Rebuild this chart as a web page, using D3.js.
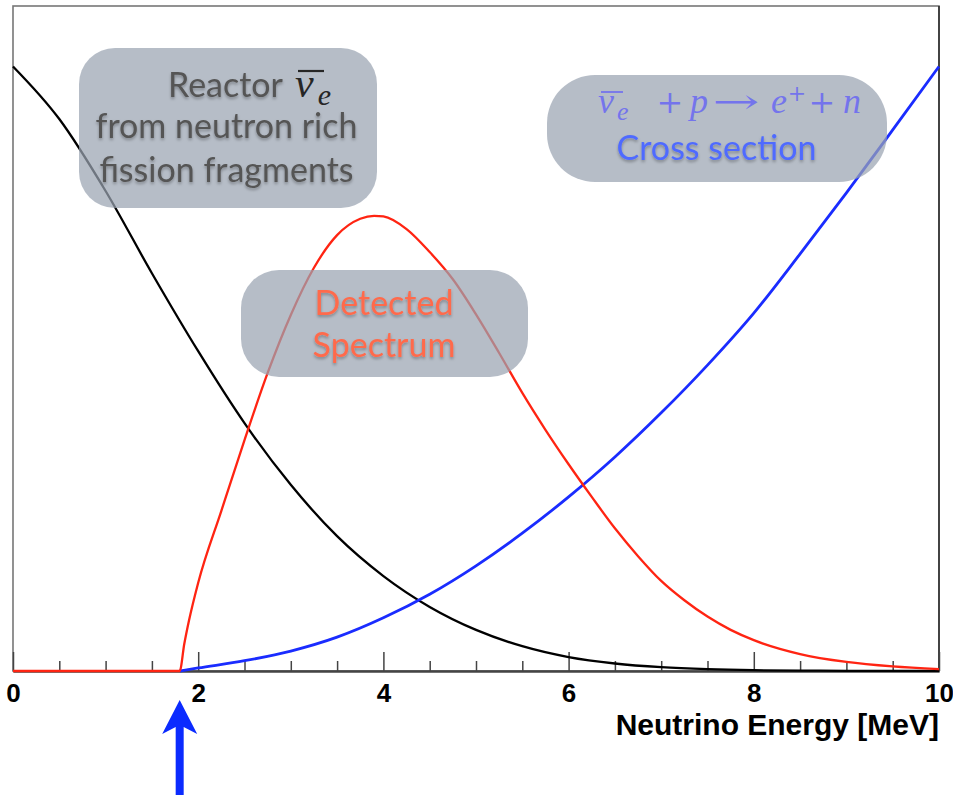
<!DOCTYPE html>
<html>
<head>
<meta charset="utf-8">
<script src="https://cdn.jsdelivr.net/npm/d3@7"></script>
<style>
  html, body { margin: 0; padding: 0; background: #fff; }
  svg { display: block; }
</style>
</head>
<body>
<svg id="chart" width="953" height="795"></svg>
<script>
// Reactor antineutrino flux (arbitrary units, value at 0 MeV = 1)
const fluxEnergy = [0, 0.5, 1.0, 1.5, 2.0, 2.5, 3.0, 3.5, 4.0, 4.5, 5.0, 5.5, 6.0, 6.5, 7.0, 7.5, 8.0, 8.5, 9.0, 9.5, 10];
const fluxValue  = [1.0, 0.913, 0.794, 0.658, 0.529, 0.410, 0.308, 0.223, 0.157, 0.106, 0.068, 0.041, 0.023, 0.0124, 0.0063, 0.003, 0.0013, 0.0007, 0.0003, 0.0002, 0.0001];

// Inverse beta decay cross section (arbitrary units, value at 10 MeV = 1)
const xsecEnergy = [1.8, 2.0, 2.5, 3.0, 3.5, 4.0, 4.5, 5.0, 5.5, 6.0, 6.5, 7.0, 7.5, 8.0, 8.5, 9.0, 9.5, 10];
const xsecValue  = [0, 0.005, 0.017, 0.033, 0.056, 0.088, 0.127, 0.174, 0.228, 0.288, 0.354, 0.427, 0.506, 0.592, 0.690, 0.791, 0.895, 1.0];

// Detected spectrum = flux x cross section (arbitrary units)
const specEnergy = [0, 1.8, 1.85, 1.9, 2.0, 2.25, 2.5, 2.75, 3.0, 3.25, 3.5, 3.75, 3.9, 4.0, 4.25, 4.5, 4.75, 5.0, 5.25, 5.5, 5.75, 6.0, 6.25, 6.5, 6.75, 7.0, 7.25, 7.5, 7.75, 8.0, 8.5, 9.0, 9.5, 10];
const specValue  = [0, 0, 0.045, 0.083, 0.146, 0.265, 0.382, 0.493, 0.589, 0.667, 0.721, 0.748, 0.753, 0.752, 0.731, 0.693, 0.648, 0.590, 0.526, 0.460, 0.399, 0.342, 0.288, 0.236, 0.190, 0.149, 0.117, 0.090, 0.068, 0.051, 0.028, 0.015, 0.0075, 0.003];

const majorTicks = [0, 2, 4, 6, 8, 10];
const minorTicks = [0.5, 1, 1.5, 2.5, 3, 3.5, 4.5, 5, 5.5, 6.5, 7, 7.5, 8.5, 9, 9.5];
const axisTitle = "Neutrino Energy [MeV]";

const svg = d3.select("#chart");
const frame = { left: 13, right: 939, top: 6, bottom: 671 };

const x = d3.scaleLinear().domain([0, 10]).range([frame.left, frame.right]);
const y = d3.scaleLinear().domain([0, 1.1]).range([frame.bottom, frame.top]);

const defs = svg.append("defs");
const shadow = defs.append("filter").attr("id", "txtShadow")
  .attr("x", "-10%").attr("y", "-30%").attr("width", "120%").attr("height", "160%");
shadow.append("feDropShadow")
  .attr("dx", 0).attr("dy", 2).attr("stdDeviation", 1.8)
  .attr("flood-color", "#000").attr("flood-opacity", 0.3);

svg.append("rect").attr("width", 953).attr("height", 795).attr("fill", "#fff");

// plot frame
svg.append("rect")
  .attr("x", frame.left).attr("y", frame.top)
  .attr("width", frame.right - frame.left).attr("height", frame.bottom - frame.top)
  .attr("fill", "none").attr("stroke", "#777").attr("stroke-width", 1.6);
svg.append("line")
  .attr("x1", frame.right).attr("x2", frame.right)
  .attr("y1", frame.top).attr("y2", frame.bottom)
  .attr("stroke", "#222").attr("stroke-width", 1.4);

// x axis with ticks pointing into the frame
const gMinor = svg.append("g").attr("transform", `translate(0,${frame.bottom})`)
  .call(d3.axisBottom(x).tickValues(minorTicks).tickSizeInner(-10).tickSizeOuter(0).tickFormat(""));
const gMajor = svg.append("g").attr("transform", `translate(0,${frame.bottom})`)
  .call(d3.axisBottom(x).tickValues(majorTicks).tickSizeInner(-19).tickSizeOuter(0).tickPadding(13).tickFormat(d3.format("d")));
[gMinor, gMajor].forEach(g => {
  g.select(".domain").attr("stroke", "#444").attr("stroke-width", 2);
  g.selectAll(".tick line").attr("stroke", "#444").attr("stroke-width", 1.5);
});
gMajor.selectAll(".tick text")
  .attr("font-family", "'Liberation Sans', Arial, sans-serif")
  .attr("font-weight", "bold").attr("font-size", 26).attr("fill", "#000");

svg.append("text")
  .attr("x", frame.right).attr("y", 735)
  .attr("text-anchor", "end")
  .attr("font-family", "'Liberation Sans', Arial, sans-serif")
  .attr("font-weight", "bold").attr("font-size", 30).attr("fill", "#000")
  .text(axisTitle);

// curves
const line = d3.line().x(d => x(d[0])).y(d => y(d[1])).curve(d3.curveMonotoneX);
const series = [
  { e: fluxEnergy, v: fluxValue, color: "#000000", w: 2.3 },
  { e: xsecEnergy, v: xsecValue, color: "#1a2cff", w: 2.8 },
  { e: specEnergy, v: specValue, color: "#ff2412", w: 2.3 }
];
series.forEach(s => {
  svg.append("path")
    .datum(d3.zip(s.e, s.v))
    .attr("d", line)
    .attr("fill", "none")
    .attr("stroke", s.color)
    .attr("stroke-width", s.w)
    .attr("stroke-linejoin", "round");
});

// annotation boxes
const boxFill = "#9aa4b2";
function box(x0, y0, w, h, r) {
  svg.append("rect").attr("x", x0).attr("y", y0).attr("width", w).attr("height", h)
    .attr("rx", r).attr("ry", r).attr("fill", boxFill).attr("fill-opacity", 0.72);
}
box(79, 48, 298, 160, 36);
box(547, 75, 340, 107, 48);
box(241, 270, 287, 107, 38);

const sans = "Lato, 'Open Sans', sans-serif";
const serif = "'Liberation Serif', 'DejaVu Serif', serif";
const symb = "'DejaVu Serif', serif";

function label(txt, xx, yy, opts) {
  const t = svg.append("text")
    .attr("x", xx).attr("y", yy)
    .attr("text-anchor", opts.anchor || "middle")
    .attr("font-family", opts.family || sans)
    .attr("font-style", opts.italic ? "italic" : "normal")
    .attr("font-size", opts.size)
    .attr("fill", opts.color)
    .attr("filter", opts.plain ? null : "url(#txtShadow)")
    .text(txt);
  if (opts.sx) t.attr("transform", `translate(${xx},0) scale(${opts.sx},1) translate(${-xx},0)`);
  return t;
}

// antineutrino symbol: barred nu with subscript e, as one text run
function nuBar(x0, base, size, subSize, subDrop, subGap, color, barY, barW) {
  const t = svg.append("text")
    .attr("x", x0).attr("y", base)
    .attr("font-family", serif).attr("font-style", "italic")
    .attr("font-size", size).attr("fill", color);
  t.append("tspan").text("ν");
  t.append("tspan").attr("font-size", subSize).attr("dx", subGap).attr("dy", subDrop).text("e");
  svg.append("line").attr("x1", x0 + 3).attr("x2", x0 + 3 + barW).attr("y1", barY).attr("y2", barY)
    .attr("stroke", color).attr("stroke-width", size > 38 ? 2.2 : 1.8);
}

// reactor flux label
const grey = "#555555";
const ink = "#262626";
label("Reactor", 283, 97, { anchor: "end", size: 34, color: grey });
nuBar(295, 97, 42, 30, 8, 4, ink, 71, 26);
label("from neutron rich", 226.5, 138, { size: 34, color: grey });
label("fission fragments", 226.5, 182, { size: 34, color: grey });

// cross section label
const lav = "#7474ec";
nuBar(598, 113, 36, 26, 7, 3, lav, 92, 22);
label("+", 670, 113, { family: symb, size: 32, color: lav, plain: true });
label("p", 699, 113, { family: serif, italic: true, size: 36, color: lav, plain: true });
label("→", 736, 113, { family: symb, size: 34, color: lav, plain: true, sx: 1.65 });
label("e", 779, 113, { family: serif, italic: true, size: 36, color: lav, plain: true });
label("+", 797, 101, { family: symb, size: 22, color: lav, plain: true });
label("+", 822, 113, { family: symb, size: 32, color: lav, plain: true });
label("n", 852, 113, { family: serif, italic: true, size: 36, color: lav, plain: true });
label("Cross section", 716.5, 160, { size: 34, color: "#4f6bff" });

// detected spectrum label
label("Detected", 384, 315, { size: 34, color: "#ff6a4c" });
label("Spectrum", 384, 357, { size: 34, color: "#ff6a4c" });

// threshold arrow
const arrowColor = "#0b2bff";
const ax = x(1.8);
svg.append("path")
  .attr("d", `M${ax},700 L${ax + 17.5},734 L${ax + 4},727 L${ax + 4},795 L${ax - 4},795 L${ax - 4},727 L${ax - 17.5},734 Z`)
  .attr("fill", arrowColor);
</script>
</body>
</html>
